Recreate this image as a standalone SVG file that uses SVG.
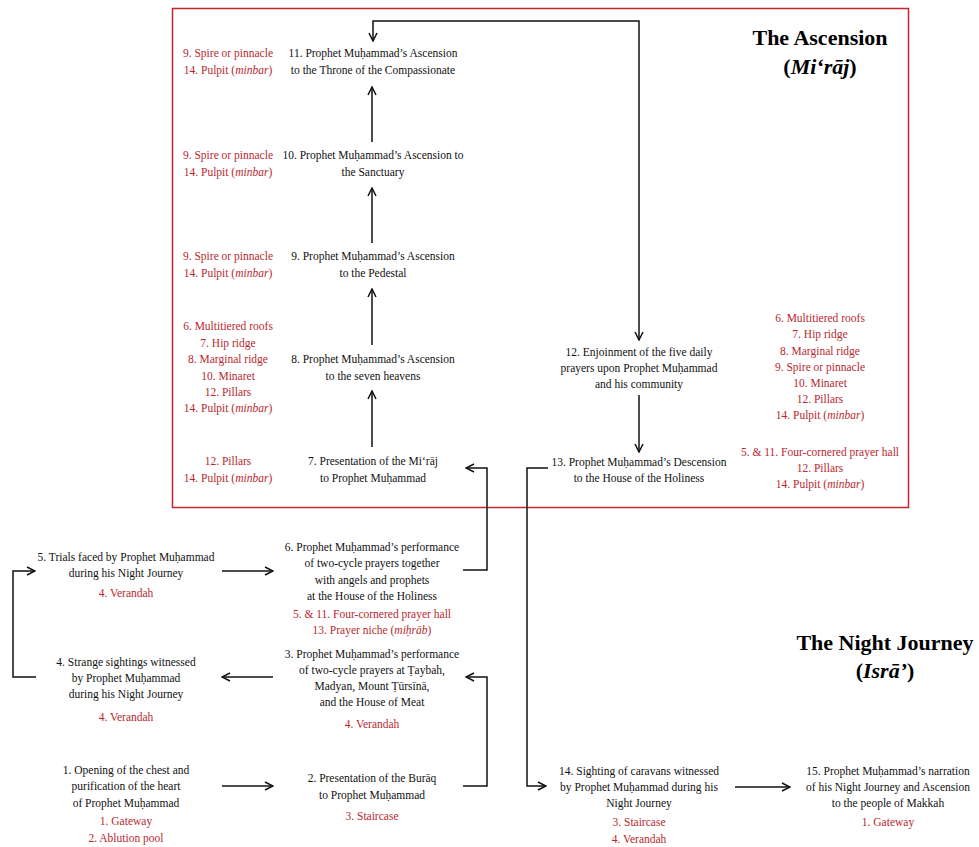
<svg xmlns="http://www.w3.org/2000/svg" width="979" height="847" viewBox="0 0 979 847">
<style>
text{font-family:"Liberation Serif","Times New Roman",serif;font-size:11.5px;fill:#111;text-anchor:middle}
.r{fill:#b8282e}
.i{font-style:italic}
.t{font-size:22px;font-weight:bold;fill:#000}
.c{fill:none;stroke:#111;stroke-width:1.5}
</style>
<defs>
<marker id="a" viewBox="0 0 10 10" refX="9" refY="5" markerWidth="10" markerHeight="10" markerUnits="userSpaceOnUse" orient="auto-start-reverse">
<path d="M1,1 L9,5 L1,9" fill="none" stroke="#111" stroke-width="1.5"/>
</marker>
</defs>
<rect width="979" height="847" fill="#fff"/>
<rect id="ascension-frame" x="172.5" y="8.5" width="736" height="499" fill="none" stroke="#c0272d" stroke-width="1.5"/>
<g id="titles">
<text class="t" x="820" y="45">The Ascension</text>
<text class="t" x="820" y="74">(<tspan class="i">Mi‘rāj</tspan>)</text>
<text class="t" x="885" y="650">The Night Journey</text>
<text class="t" x="885" y="678">(<tspan class="i">Isrā’</tspan>)</text>
</g>
<g id="connectors">
<path class="c" marker-end="url(#a)" d="M372,447 L372,391"/>
<path class="c" marker-end="url(#a)" d="M372,345 L372,289"/>
<path class="c" marker-end="url(#a)" d="M372,243 L372,188"/>
<path class="c" marker-end="url(#a)" d="M372,142 L372,87"/>
<path class="c" marker-start="url(#a)" marker-end="url(#a)" d="M639,340 L639,21 L373,21 L373,41"/>
<path class="c" marker-end="url(#a)" d="M639,395 L639,452"/>
<path class="c" marker-end="url(#a)" d="M548,468 L527,468 L527,786 L546,786"/>
<path class="c" marker-end="url(#a)" d="M463,570 L487,570 L487,468 L466,468"/>
<path class="c" marker-end="url(#a)" d="M222,571 L273,571"/>
<path class="c" marker-end="url(#a)" d="M36,677 L13,677 L13,571 L35,571"/>
<path class="c" marker-end="url(#a)" d="M273,677 L222,677"/>
<path class="c" marker-end="url(#a)" d="M463,786 L487,786 L487,677 L466,677"/>
<path class="c" marker-end="url(#a)" d="M222,786 L273,786"/>
<path class="c" marker-end="url(#a)" d="M735,787 L790,787"/>
</g>
<g id="n11">
<text x="373" y="57">11. Prophet Muḥammad’s Ascension</text>
<text x="373" y="74">to the Throne of the Compassionate</text>
<text class="r" x="228" y="57">9. Spire or pinnacle</text>
<text class="r" x="228" y="74">14. Pulpit (<tspan class="i">minbar</tspan>)</text>
</g>
<g id="n10">
<text x="373" y="159">10. Prophet Muḥammad’s Ascension to</text>
<text x="373" y="176">the Sanctuary</text>
<text class="r" x="228" y="159">9. Spire or pinnacle</text>
<text class="r" x="228" y="176">14. Pulpit (<tspan class="i">minbar</tspan>)</text>
</g>
<g id="n9">
<text x="373" y="260">9. Prophet Muḥammad’s Ascension</text>
<text x="373" y="277">to the Pedestal</text>
<text class="r" x="228" y="260">9. Spire or pinnacle</text>
<text class="r" x="228" y="277">14. Pulpit (<tspan class="i">minbar</tspan>)</text>
</g>
<g id="n8">
<text x="373" y="363">8. Prophet Muḥammad’s Ascension</text>
<text x="373" y="380">to the seven heavens</text>
<text class="r" x="228" y="330">6. Multitiered roofs</text>
<text class="r" x="228" y="347">7. Hip ridge</text>
<text class="r" x="228" y="363">8. Marginal ridge</text>
<text class="r" x="228" y="380">10. Minaret</text>
<text class="r" x="228" y="396">12. Pillars</text>
<text class="r" x="228" y="412">14. Pulpit (<tspan class="i">minbar</tspan>)</text>
</g>
<g id="n7">
<text x="373" y="465">7. Presentation of the Mi‘rāj</text>
<text x="373" y="482">to Prophet Muḥammad</text>
<text class="r" x="228" y="465">12. Pillars</text>
<text class="r" x="228" y="482">14. Pulpit (<tspan class="i">minbar</tspan>)</text>
</g>
<g id="n12">
<text x="639" y="356">12. Enjoinment of the five daily</text>
<text x="639" y="372">prayers upon Prophet Muḥammad</text>
<text x="639" y="388">and his community</text>
<text class="r" x="820" y="322">6. Multitiered roofs</text>
<text class="r" x="820" y="338">7. Hip ridge</text>
<text class="r" x="820" y="355">8. Marginal ridge</text>
<text class="r" x="820" y="371">9. Spire or pinnacle</text>
<text class="r" x="820" y="387">10. Minaret</text>
<text class="r" x="820" y="403">12. Pillars</text>
<text class="r" x="820" y="419">14. Pulpit (<tspan class="i">minbar</tspan>)</text>
</g>
<g id="n13">
<text x="639" y="466">13. Prophet Muḥammad’s Descension</text>
<text x="639" y="482">to the House of the Holiness</text>
<text class="r" x="820" y="456">5. &amp; 11. Four-cornered prayer hall</text>
<text class="r" x="820" y="472">12. Pillars</text>
<text class="r" x="820" y="488">14. Pulpit (<tspan class="i">minbar</tspan>)</text>
</g>
<g id="n5">
<text x="126" y="561">5. Trials faced by Prophet Muḥammad</text>
<text x="126" y="577">during his Night Journey</text>
<text class="r" x="126" y="597">4. Verandah</text>
</g>
<g id="n6">
<text x="372" y="551">6. Prophet Muḥammad’s performance</text>
<text x="372" y="567">of two-cycle prayers together</text>
<text x="372" y="584">with angels and prophets</text>
<text x="372" y="600">at the House of the Holiness</text>
<text class="r" x="372" y="618">5. &amp; 11. Four-cornered prayer hall</text>
<text class="r" x="372" y="634">13. Prayer niche (<tspan class="i">miḥrāb</tspan>)</text>
</g>
<g id="n4">
<text x="126" y="666">4. Strange sightings witnessed</text>
<text x="126" y="682">by Prophet Muḥammad</text>
<text x="126" y="698">during his Night Journey</text>
<text class="r" x="126" y="721">4. Verandah</text>
</g>
<g id="n3">
<text x="372" y="658">3. Prophet Muḥammad’s performance</text>
<text x="372" y="674">of two-cycle prayers at Ṭaybah,</text>
<text x="372" y="690">Madyan, Mount Ṭūrsīnā,</text>
<text x="372" y="706">and the House of Meat</text>
<text class="r" x="372" y="728">4. Verandah</text>
</g>
<g id="n1">
<text x="126" y="774">1. Opening of the chest and</text>
<text x="126" y="790">purification of the heart</text>
<text x="126" y="807">of Prophet Muḥammad</text>
<text class="r" x="126" y="825">1. Gateway</text>
<text class="r" x="126" y="842">2. Ablution pool</text>
</g>
<g id="n2">
<text x="372" y="782">2. Presentation of the Burāq</text>
<text x="372" y="799">to Prophet Muḥammad</text>
<text class="r" x="372" y="820">3. Staircase</text>
</g>
<g id="n14">
<text x="639" y="775">14. Sighting of caravans witnessed</text>
<text x="639" y="791">by Prophet Muḥammad during his</text>
<text x="639" y="807">Night Journey</text>
<text class="r" x="639" y="826">3. Staircase</text>
<text class="r" x="639" y="843">4. Verandah</text>
</g>
<g id="n15">
<text x="888" y="775">15. Prophet Muḥammad’s narration</text>
<text x="888" y="791">of his Night Journey and Ascension</text>
<text x="888" y="807">to the people of Makkah</text>
<text class="r" x="888" y="826">1. Gateway</text>
</g>
</svg>
